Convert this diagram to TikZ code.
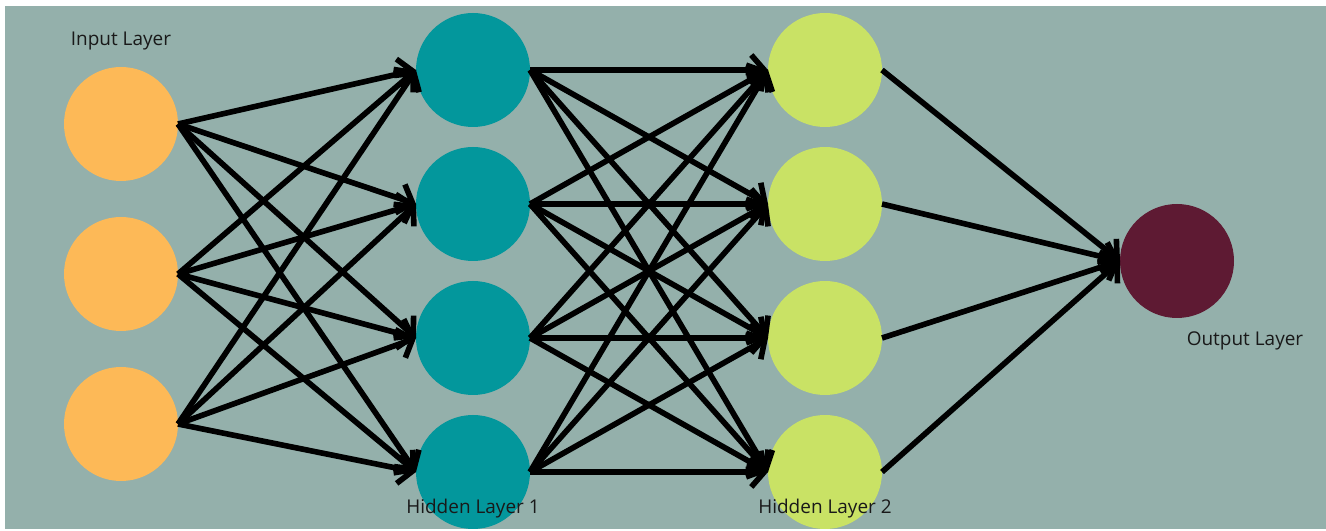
\documentclass[tikz,border=0pt]{standalone}
\usepackage{fontspec}
\setmainfont{Open Sans}
\usetikzlibrary{arrows.meta, positioning}
\usepackage{xcolor}

\definecolor{netbg}{HTML}{94B0AB}
\definecolor{inorange}{HTML}{FDB957}
\definecolor{hidteal}{HTML}{03979C}
\definecolor{hidlime}{HTML}{C9E265}
\definecolor{outwine}{HTML}{5E1A33}

\begin{document}
\begin{tikzpicture}[%
    every node/.style={%
      font=\fontsize{10.8}{12}\selectfont,
      text=black!90,
      align=center
    },
    neuron/.style={circle, minimum size=2.28cm, inner sep=0pt, outer sep=0pt},
    link/.style={black, line width=3.2pt,
      -{Straight Barb[length=2.6mm, width=6mm, line width=3.2pt]}}
  ]

  \useasboundingbox (0,0) rectangle (26.52,10.62);
  \fill[netbg] (0.1,0.04) rectangle (26.52,10.5);

  % Input layer
  \node[neuron, fill=inorange] (i1) at (2.42,8.14) {};
  \node[neuron, fill=inorange, below=0.72cm of i1] (i2) {};
  \node[neuron, fill=inorange, below=0.72cm of i2] (i3) {};

  % Hidden layer 1
  \node[neuron, fill=hidteal] (a1) at (9.46,9.22) {};
  \node[neuron, fill=hidteal, below=0.4cm of a1] (a2) {};
  \node[neuron, fill=hidteal, below=0.4cm of a2] (a3) {};
  \node[neuron, fill=hidteal, below=0.4cm of a3] (a4) {};

  % Hidden layer 2
  \node[neuron, fill=hidlime, right=4.76cm of a1] (b1) {};
  \node[neuron, fill=hidlime, below=0.4cm of b1] (b2) {};
  \node[neuron, fill=hidlime, below=0.4cm of b2] (b3) {};
  \node[neuron, fill=hidlime, below=0.4cm of b3] (b4) {};

  % Output layer
  \node[neuron, fill=outwine] (o1) at (23.54,5.4) {};

  % Layer labels
  \node[above=0.52cm of i1.north, anchor=center] (tin) {Input Layer};
  \node[above=0.4cm of a4.south, anchor=center] (th1) {Hidden Layer 1};
  \node[above=0.4cm of b4.south, anchor=center] (th2) {Hidden Layer 2};
  \node[below right=1.6cm and 1.36cm of o1.center, anchor=center] (tout) {Output Layer};

  % Input -> hidden 1
  \draw[link] (i1.east) -- (a1.west);
  \draw[link] (i1.east) -- (a2.west);
  \draw[link] (i1.east) -- (a3.west);
  \draw[link] (i1.east) -- (a4.west);
  \draw[link] (i2.east) -- (a1.west);
  \draw[link] (i2.east) -- (a2.west);
  \draw[link] (i2.east) -- (a3.west);
  \draw[link] (i2.east) -- (a4.west);
  \draw[link] (i3.east) -- (a1.west);
  \draw[link] (i3.east) -- (a2.west);
  \draw[link] (i3.east) -- (a3.west);
  \draw[link] (i3.east) -- (a4.west);

  % Hidden 1 -> hidden 2
  \draw[link] (a1.east) -- (b1.west);
  \draw[link] (a1.east) -- (b2.west);
  \draw[link] (a1.east) -- (b3.west);
  \draw[link] (a1.east) -- (b4.west);
  \draw[link] (a2.east) -- (b1.west);
  \draw[link] (a2.east) -- (b2.west);
  \draw[link] (a2.east) -- (b3.west);
  \draw[link] (a2.east) -- (b4.west);
  \draw[link] (a3.east) -- (b1.west);
  \draw[link] (a3.east) -- (b2.west);
  \draw[link] (a3.east) -- (b3.west);
  \draw[link] (a3.east) -- (b4.west);
  \draw[link] (a4.east) -- (b1.west);
  \draw[link] (a4.east) -- (b2.west);
  \draw[link] (a4.east) -- (b3.west);
  \draw[link] (a4.east) -- (b4.west);

  % Hidden 2 -> output
  \draw[link] (b1.east) -- (o1.west);
  \draw[link] (b2.east) -- (o1.west);
  \draw[link] (b3.east) -- (o1.west);
  \draw[link] (b4.east) -- (o1.west);

\end{tikzpicture}
\end{document}
